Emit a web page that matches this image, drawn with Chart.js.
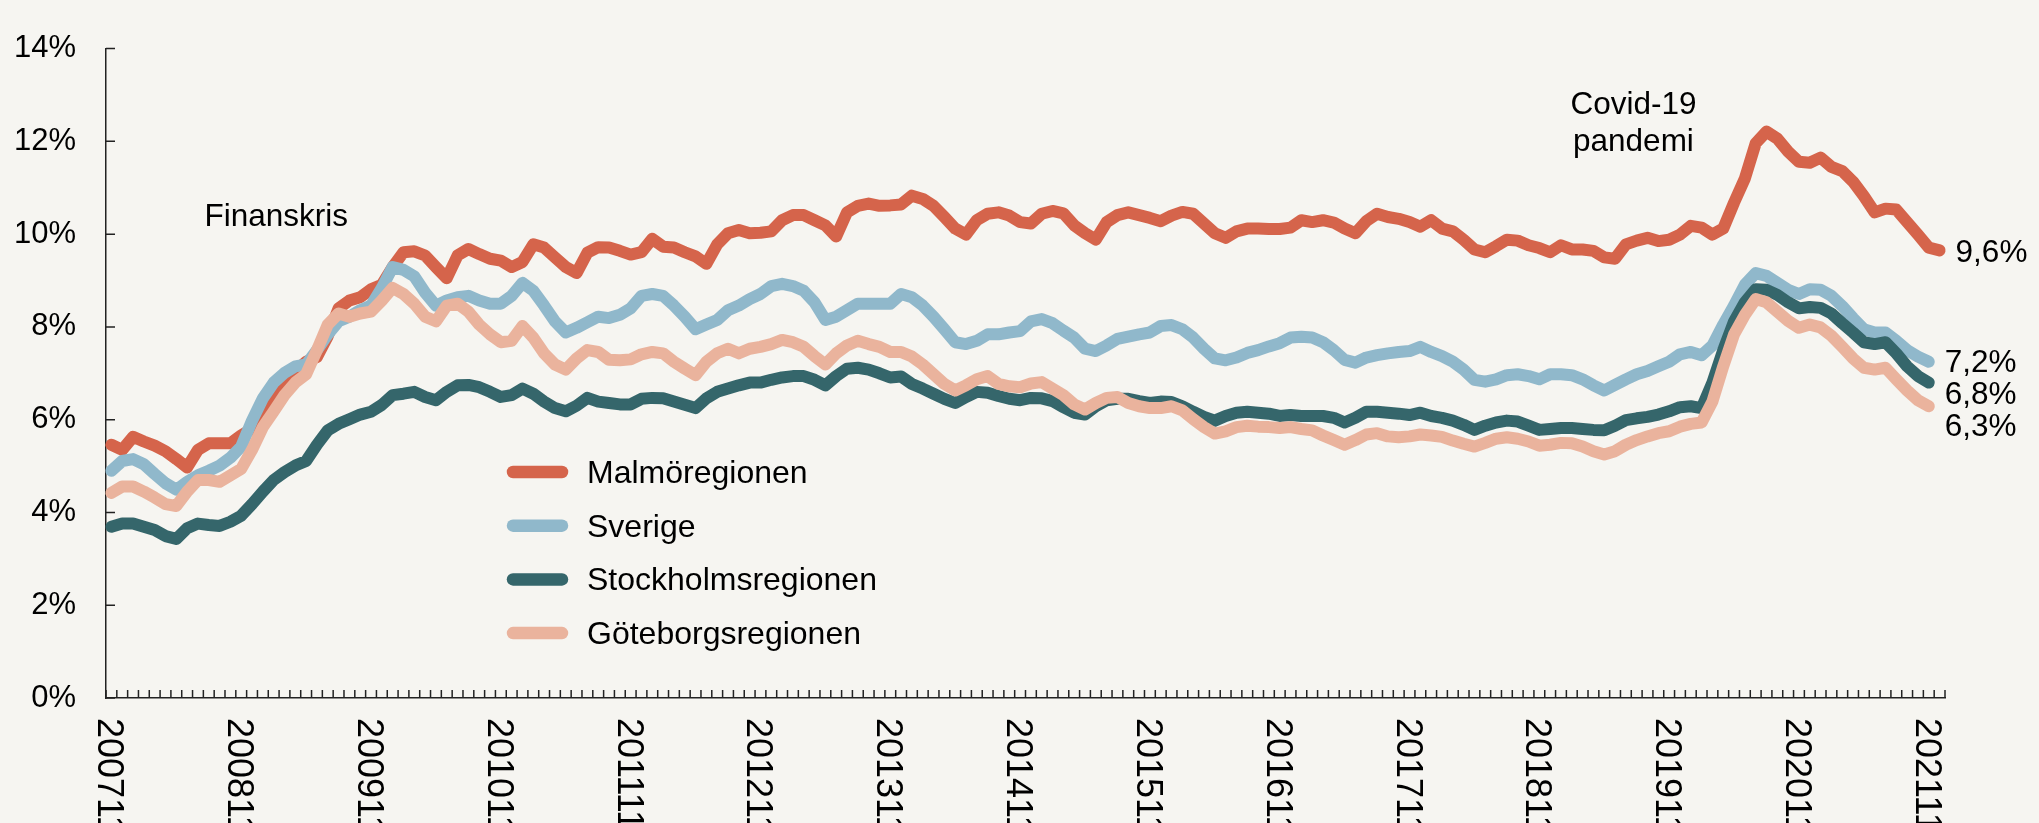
<!DOCTYPE html>
<html>
<head>
<meta charset="utf-8">
<script src="https://cdn.jsdelivr.net/npm/chart.js@4.4.1/dist/chart.umd.min.js"></script>
<style>
  html, body { margin: 0; padding: 0; background: #f6f5f1; }
  #wrap { width: 2039px; height: 823px; }
</style>
</head>
<body>
<div id="wrap"><canvas id="chart" width="2039" height="823"></canvas></div>
<script>
// Arbetslöshet per region, månadsdata 2007-11 .. 2021-12
const seriesNames = ['Malmöregionen', 'Sverige', 'Stockholmsregionen', 'Göteborgsregionen'];
const seriesColors = ['#d5644b', '#90b8cb', '#35666b', '#eab39d'];
const endLabels = ['9,6%', '7,2%', '6,8%', '6,3%'];
const yearTicks = ['200711', '200811', '200911', '201011', '201111', '201211', '201311', '201411',
  '201511', '201611', '201711', '201811', '201911', '202011', '202111'];

const malmo = [
  5.46, 5.35, 5.63, 5.53, 5.44, 5.32, 5.15, 4.97, 5.35, 5.49, 5.49, 5.49, 5.66, 5.80, 6.10, 6.50,
  6.85, 7.05, 7.25, 7.35, 7.80, 8.40, 8.57, 8.64, 8.81, 8.91, 9.29, 9.61, 9.63, 9.54, 9.29, 9.05,
  9.54, 9.68, 9.57, 9.47, 9.43, 9.29, 9.40, 9.78, 9.71, 9.50, 9.29, 9.16, 9.60, 9.72, 9.71, 9.64,
  9.56, 9.61, 9.90, 9.73, 9.71, 9.61, 9.52, 9.36, 9.78, 10.02, 10.09, 10.02, 10.03, 10.06, 10.30, 10.41,
  10.41, 10.30, 10.19, 9.95, 10.47, 10.61, 10.66, 10.61, 10.62, 10.64, 10.83, 10.76, 10.61, 10.37, 10.12, 9.99,
  10.30, 10.44, 10.47, 10.40, 10.26, 10.23, 10.44, 10.50, 10.45, 10.19, 10.02, 9.88, 10.26, 10.41, 10.47, 10.41,
  10.35, 10.28, 10.40, 10.48, 10.44, 10.23, 10.02, 9.92, 10.06, 10.12, 10.12, 10.11, 10.11, 10.14, 10.30, 10.26,
  10.30, 10.25, 10.12, 10.02, 10.28, 10.44, 10.37, 10.33, 10.26, 10.16, 10.30, 10.12, 10.06, 9.88, 9.67, 9.61,
  9.74, 9.88, 9.86, 9.76, 9.70, 9.61, 9.76, 9.67, 9.67, 9.64, 9.50, 9.47, 9.78, 9.86, 9.92, 9.85,
  9.88, 9.99, 10.18, 10.14, 9.99, 10.12, 10.68, 11.20, 11.96, 12.21, 12.06, 11.78, 11.56, 11.54, 11.65, 11.45,
  11.36, 11.13, 10.82, 10.47, 10.55, 10.53, 10.26, 9.99, 9.71, 9.65
];
const sverige = [
  4.90, 5.11, 5.15, 5.04, 4.83, 4.63, 4.49, 4.66, 4.80, 4.90, 5.01, 5.18, 5.42, 5.98, 6.46, 6.80,
  7.01, 7.15, 7.19, 7.50, 7.84, 8.12, 8.22, 8.36, 8.46, 8.84, 9.29, 9.23, 9.09, 8.74, 8.46, 8.57,
  8.64, 8.67, 8.57, 8.50, 8.50, 8.67, 8.95, 8.78, 8.46, 8.12, 7.88, 7.98, 8.10, 8.22, 8.19, 8.26,
  8.40, 8.67, 8.71, 8.67, 8.46, 8.22, 7.95, 8.05, 8.15, 8.36, 8.46, 8.60, 8.71, 8.88, 8.93, 8.88,
  8.78, 8.53, 8.15, 8.22, 8.36, 8.50, 8.50, 8.50, 8.50, 8.71, 8.64, 8.46, 8.22, 7.95, 7.67, 7.63,
  7.70, 7.84, 7.84, 7.88, 7.91, 8.12, 8.17, 8.08, 7.92, 7.77, 7.53, 7.48, 7.60, 7.74, 7.79, 7.84,
  7.88, 8.02, 8.04, 7.95, 7.77, 7.53, 7.32, 7.28, 7.34, 7.44, 7.50, 7.58, 7.65, 7.77, 7.79, 7.77,
  7.67, 7.50, 7.29, 7.23, 7.34, 7.39, 7.43, 7.46, 7.48, 7.57, 7.46, 7.37, 7.25, 7.08, 6.86, 6.82,
  6.87, 6.96, 6.98, 6.94, 6.87, 6.98, 6.98, 6.96, 6.87, 6.74, 6.63, 6.75, 6.87, 6.98, 7.05, 7.15,
  7.25, 7.41, 7.46, 7.39, 7.60, 8.05, 8.46, 8.91, 9.16, 9.10, 8.95, 8.80, 8.71, 8.81, 8.80, 8.67,
  8.45, 8.19, 7.95, 7.88, 7.88, 7.70, 7.50, 7.36, 7.25
];
const stockholm = [
  3.69, 3.76, 3.76, 3.69, 3.62, 3.49, 3.43, 3.66, 3.76, 3.73, 3.71, 3.80, 3.93, 4.18, 4.45, 4.70,
  4.87, 5.01, 5.11, 5.46, 5.77, 5.91, 6.01, 6.11, 6.17, 6.32, 6.53, 6.56, 6.60, 6.49, 6.42, 6.60,
  6.74, 6.75, 6.70, 6.60, 6.49, 6.53, 6.67, 6.56, 6.39, 6.25, 6.18, 6.30, 6.47, 6.39, 6.36, 6.33,
  6.33, 6.45, 6.47, 6.46, 6.39, 6.32, 6.25, 6.46, 6.60, 6.67, 6.74, 6.80, 6.80, 6.86, 6.91, 6.94,
  6.94, 6.86, 6.74, 6.94, 7.10, 7.12, 7.08, 7.00, 6.91, 6.93, 6.77, 6.67, 6.56, 6.45, 6.36, 6.49,
  6.60, 6.58, 6.51, 6.45, 6.42, 6.47, 6.46, 6.40, 6.27, 6.15, 6.11, 6.29, 6.42, 6.45, 6.45, 6.40,
  6.36, 6.39, 6.38, 6.29, 6.17, 6.06, 5.98, 6.08, 6.15, 6.17, 6.15, 6.13, 6.08, 6.10, 6.08, 6.08,
  6.08, 6.04, 5.94, 6.04, 6.17, 6.17, 6.15, 6.13, 6.10, 6.15, 6.08, 6.04, 5.98, 5.89, 5.78, 5.87,
  5.94, 5.98, 5.96, 5.87, 5.78, 5.80, 5.82, 5.82, 5.80, 5.78, 5.77, 5.87, 5.99, 6.03, 6.06, 6.11,
  6.18, 6.27, 6.29, 6.25, 6.80, 7.50, 8.12, 8.53, 8.81, 8.80, 8.69, 8.53, 8.40, 8.43, 8.41, 8.29,
  8.08, 7.88, 7.67, 7.63, 7.67, 7.43, 7.15, 6.94, 6.80
];
const goteborg = [
  4.42, 4.56, 4.56, 4.45, 4.32, 4.18, 4.14, 4.45, 4.70, 4.70, 4.66, 4.80, 4.94, 5.35, 5.84, 6.18,
  6.53, 6.80, 6.98, 7.50, 8.05, 8.29, 8.22, 8.29, 8.33, 8.57, 8.84, 8.71, 8.50, 8.22, 8.12, 8.46,
  8.50, 8.33, 8.05, 7.84, 7.67, 7.70, 8.02, 7.77, 7.43, 7.19, 7.08, 7.32, 7.50, 7.46, 7.29, 7.28,
  7.30, 7.41, 7.46, 7.43, 7.25, 7.10, 6.96, 7.25, 7.43, 7.53, 7.43, 7.53, 7.57, 7.63, 7.72, 7.67,
  7.57, 7.37, 7.19, 7.43, 7.60, 7.70, 7.63, 7.57, 7.46, 7.46, 7.36, 7.19, 6.98, 6.77, 6.63, 6.74,
  6.87, 6.94, 6.77, 6.72, 6.70, 6.78, 6.81, 6.67, 6.53, 6.33, 6.22, 6.36, 6.47, 6.49, 6.36, 6.29,
  6.25, 6.25, 6.29, 6.20, 6.01, 5.84, 5.70, 5.75, 5.84, 5.87, 5.85, 5.84, 5.82, 5.84, 5.80, 5.77,
  5.66, 5.56, 5.46, 5.56, 5.68, 5.71, 5.64, 5.62, 5.64, 5.68, 5.66, 5.63, 5.55, 5.48, 5.42, 5.50,
  5.59, 5.62, 5.59, 5.53, 5.44, 5.46, 5.50, 5.49, 5.42, 5.32, 5.25, 5.32, 5.46, 5.56, 5.64, 5.71,
  5.75, 5.85, 5.91, 5.94, 6.39, 7.15, 7.84, 8.26, 8.60, 8.53, 8.33, 8.13, 7.98, 8.05, 7.99, 7.81,
  7.57, 7.32, 7.12, 7.08, 7.12, 6.87, 6.63, 6.42, 6.29
];

// månadskategorier, t.ex. "200711"
const categories = [];
for (let yr = 2007; yr <= 2021; yr++) {
  for (let m = 1; m <= 12; m++) {
    if (yr === 2007 && m < 11) continue;
    categories.push(`${yr}${String(m).padStart(2, '0')}`);
  }
}

const FONT = "'Liberation Sans', Arial, sans-serif";
const AXIS = '#222';
Chart.defaults.font.family = FONT;
Chart.defaults.color = '#000';

const decor = {
  id: 'decor',
  beforeDraw(chart) {
    const { ctx } = chart;
    ctx.save();
    ctx.fillStyle = '#f6f5f1';
    ctx.fillRect(0, 0, chart.width, chart.height);
    ctx.restore();
  },
  afterDraw(chart) {
    const { ctx, chartArea: ca, scales: { x, y } } = chart;
    ctx.save();

    // tick marks pointing inwards
    ctx.strokeStyle = AXIS;
    ctx.lineWidth = 1.5;
    const step = x.getPixelForValue(1) - x.getPixelForValue(0);
    ctx.beginPath();
    for (let k = 0; k <= categories.length; k++) {
      const px = x.getPixelForValue(k) - step / 2;
      ctx.moveTo(px, ca.bottom);
      ctx.lineTo(px, ca.bottom - 8);
    }
    y.ticks.forEach(t => {
      const py = y.getPixelForValue(t.value);
      ctx.moveTo(ca.left, py);
      ctx.lineTo(ca.left + 9, py);
    });
    ctx.stroke();

    // rotated year labels
    ctx.fillStyle = '#000';
    ctx.font = `36px ${FONT}`;
    ctx.textAlign = 'left';
    ctx.textBaseline = 'alphabetic';
    categories.forEach((c, i) => {
      if (!yearTicks.includes(c)) return;
      const px = x.getPixelForValue(i);
      ctx.save();
      ctx.translate(px - 13, ca.bottom + 20);
      ctx.rotate(Math.PI / 2);
      ctx.fillText(c, 0, 0);
      ctx.restore();
    });

    // annotations
    ctx.font = `31.5px ${FONT}`;
    ctx.fillText('Finanskris', x.getPixelForValue(8.6), y.getPixelForValue(10.17));
    ctx.textAlign = 'center';
    ctx.fillText('Covid-19', x.getPixelForValue(140.7), y.getPixelForValue(12.59));
    ctx.fillText('pandemi', x.getPixelForValue(140.7), y.getPixelForValue(11.8));

    // end value labels
    const endOffsets = [12, 10, 21, 30];
    ctx.textAlign = 'left';
    chart.data.datasets.forEach((ds, i) => {
      const pts = chart.getDatasetMeta(i).data;
      const last = pts[pts.length - 1];
      ctx.fillText(endLabels[i], last.x + 16, last.y + endOffsets[i]);
    });

    // legend
    ctx.font = `32px ${FONT}`;
    const lx = ca.left + 407, ly = 472, gap = 53.7;
    seriesNames.forEach((name, i) => {
      const ry = ly + i * gap;
      ctx.strokeStyle = seriesColors[i];
      ctx.lineWidth = 12.5;
      ctx.lineCap = 'round';
      ctx.beginPath();
      ctx.moveTo(lx, ry);
      ctx.lineTo(lx + 49, ry);
      ctx.stroke();
      ctx.fillStyle = '#000';
      ctx.fillText(name, lx + 74, ry + 11);
    });

    ctx.restore();
  }
};

const seriesData = [malmo, sverige, stockholm, goteborg];

new Chart(document.getElementById('chart'), {
  type: 'line',
  data: {
    labels: categories,
    datasets: seriesData.map((d, i) => ({
      label: seriesNames[i],
      data: d,
      borderColor: seriesColors[i],
      borderWidth: 12,
      borderCapStyle: 'round',
      borderJoinStyle: 'round',
      pointRadius: 0,
      tension: 0,
      fill: false,
      order: 4 - i
    }))
  },
  options: {
    responsive: false,
    animation: false,
    layout: { padding: { top: 23, right: 94, left: 0, bottom: 0 } },
    plugins: { legend: { display: false }, tooltip: { enabled: false } },
    scales: {
      x: {
        offset: true,
        grid: { display: false, drawTicks: false },
        border: { display: true, color: AXIS, width: 1.5 },
        ticks: { display: false },
        afterFit: s => { s.height = 125; }
      },
      y: {
        min: 0,
        max: 14,
        grid: { display: false, drawTicks: false },
        border: { display: true, color: AXIS, width: 1.5 },
        ticks: {
          stepSize: 2,
          padding: 30,
          font: { size: 31 },
          color: '#000',
          callback: v => v + '%'
        },
        afterFit: s => { s.width = 106; }
      }
    }
  },
  plugins: [decor]
});
</script>
</body>
</html>
